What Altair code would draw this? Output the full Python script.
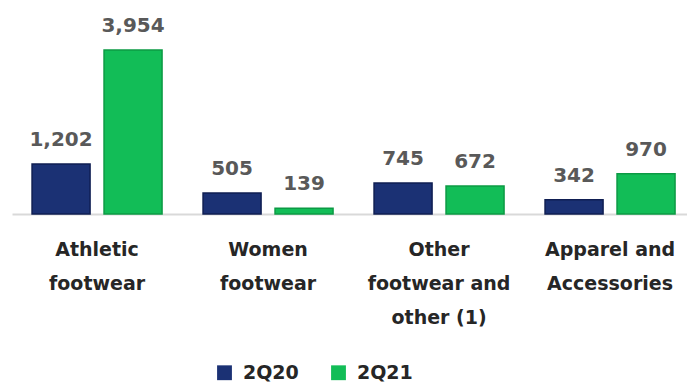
import altair as alt
import pandas as pd

categories = ["Athletic|footwear", "Women|footwear", "Other|footwear and|other (1)", "Apparel and|Accessories"]
series = ["2Q20", "2Q21"]
values_2q20 = [1202, 505, 745, 342]
values_2q21 = [3954, 139, 672, 970]
colors = ["#1B3174", "#12BD57"]
edge_colors = ["#0F1E52", "#0C9A44"]

rows = []
for c, a, b in zip(categories, values_2q20, values_2q21):
    rows.append({"category": c, "series": series[0], "value": a})
    rows.append({"category": c, "series": series[1], "value": b})
df = pd.DataFrame(rows)

FONT = "DejaVu Sans"

x_enc = alt.X(
    "category:N",
    sort=categories,
    scale=alt.Scale(paddingInner=0.1, paddingOuter=0.0237, align=1),
    axis=alt.Axis(
        title=None,
        domain=True,
        domainColor="#d9d9d9",
        domainWidth=2,
        ticks=False,
        grid=False,
        labelAngle=0,
        labelExpr="split(datum.label, '|')",
        labelFont=FONT,
        labelFontWeight="bold",
        labelFontSize=19,
        labelColor="#262626",
        labelLineHeight=34,
        labelPadding=26,
        labelBaseline="top",
    ),
)
xoff = alt.XOffset("series:N", sort=series, scale=alt.Scale(paddingInner=0.194, paddingOuter=0.166))
y_enc = alt.Y("value:Q", scale=alt.Scale(domain=[0, 5012]), axis=None)

base = alt.Chart(df)

bars = base.mark_bar(strokeWidth=1.5).encode(
    x=x_enc,
    xOffset=xoff,
    y=y_enc,
    color=alt.Color(
        "series:N",
        sort=series,
        scale=alt.Scale(domain=series, range=colors),
        legend=alt.Legend(
            title=None,
            orient="none",
            legendX=203,
            legendY=357,
            direction="horizontal",
            symbolType="square",
            symbolSize=220,
            symbolStrokeWidth=0,
            labelFont=FONT,
            labelFontWeight="bold",
            labelFontSize=19,
            labelColor="#262626",
            labelOffset=9,
            columnPadding=30,
        ),
    ),
    stroke=alt.Stroke(
        "series:N",
        sort=series,
        scale=alt.Scale(domain=series, range=edge_colors),
        legend=None,
    ),
)

labels = base.mark_text(
    dy=-18, baseline="alphabetic", font=FONT, fontWeight="bold", fontSize=20, color="#595959"
).encode(
    x=x_enc,
    xOffset=xoff,
    y=y_enc,
    text=alt.Text("value:Q", format=","),
)

chart = (
    alt.layer(bars, labels)
    .properties(
        width=675,
        height=208,
        padding={"left": 12, "top": 6, "right": 0, "bottom": 168},
        autosize=alt.AutoSizeParams(type="none"),
        view=alt.ViewBackground(stroke="transparent", strokeWidth=0),
    )
    .configure_view(stroke="transparent", strokeWidth=0)
    .configure_axis(grid=False)
    .configure(background="white")
)

chart.save("out.html", embed_options={"renderer": "svg", "actions": False})
